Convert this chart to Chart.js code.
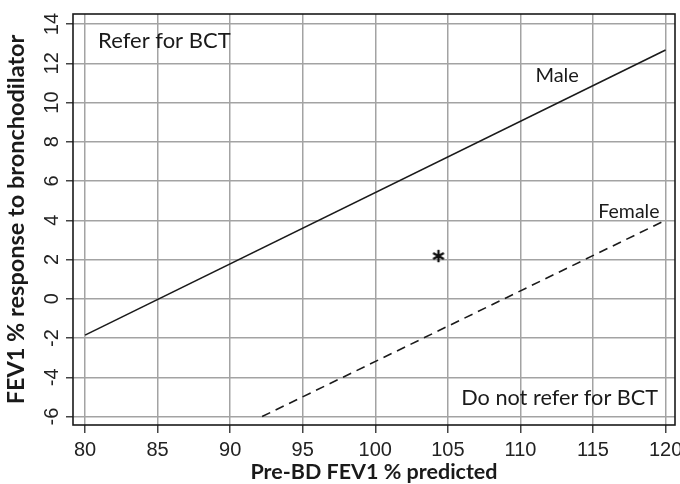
<!DOCTYPE html>
<html><head><meta charset="utf-8">
<script src="https://cdn.jsdelivr.net/npm/chart.js@4/dist/chart.umd.min.js"></script>
<style>html,body{margin:0;padding:0;background:#fff;}</style>
</head><body>
<canvas id="c" width="680" height="484" style="width:680px;height:484px;display:block"></canvas>
<script>
// ---- data ----
const xTicks = [80, 85, 90, 95, 100, 105, 110, 115, 120];
const yTicks = [-6, -4, -2, 0, 2, 4, 6, 8, 10, 12, 14];
const maleX = [80, 120];
const maleY = [-1.85, 12.68];
const femaleX = [92.2, 120];
const femaleY = [-6.0, 4.0];
const patientX = [104.35];
const patientY = [2.18];
const xTitle = 'Pre-BD FEV1 % predicted';
const yTitle = 'FEV1 % response to bronchodilator';

const toPts = (xs, ys) => xs.map((x, i) => ({x: x, y: ys[i]}));

// asterisk marker
const star = document.createElement('canvas');
star.width = 16; star.height = 16;
(function(){
  const g = star.getContext('2d');
  g.strokeStyle = '#111'; g.lineWidth = 2.3; g.lineCap = 'butt';
  const cx = 8, cy = 8, r = 6.2;
  for (const a of [90, 30, -30]) {
    const t = a * Math.PI / 180;
    g.beginPath();
    g.moveTo(cx - r * Math.cos(t), cy - r * Math.sin(t));
    g.lineTo(cx + r * Math.cos(t), cy + r * Math.sin(t));
    g.stroke();
  }
})();

const tickFont = '20px "Liberation Sans", Arial, sans-serif';

const deco = {
  id: 'deco',
  beforeDatasetsDraw(chart) {
    const {ctx, chartArea: a} = chart;
    ctx.save();
    ctx.strokeStyle = '#1a1a1a';
    ctx.lineWidth = 1.6;
    ctx.strokeRect(a.left, a.top, a.right - a.left, a.bottom - a.top);
    // rotated y tick labels
    const ys = chart.scales.y;
    ctx.fillStyle = '#222';
    ctx.font = tickFont;
    ctx.textAlign = 'center';
    ctx.textBaseline = 'middle';
    for (const v of yTicks) {
      const py = ys.getPixelForValue(v);
      ctx.save();
      ctx.translate(52, py);
      ctx.rotate(-Math.PI / 2);
      ctx.fillText(String(v), 0, 0);
      ctx.restore();
    }
    ctx.restore();
  },
  afterDatasetsDraw(chart) {
    const {ctx} = chart;
    const xs = chart.scales.x, ys = chart.scales.y;
    const put = (txt, x, y, align, size) => {
      ctx.font = size + 'px Lato, "Open Sans", sans-serif';
      ctx.textAlign = align;
      ctx.textBaseline = 'alphabetic';
      ctx.fillText(txt, xs.getPixelForValue(x), ys.getPixelForValue(y));
    };
    ctx.save();
    ctx.fillStyle = '#1a1a1a';
    put('Refer for BCT', 80.9, 12.78, 'left', 22);
    put('Male', 111.03, 11.03, 'left', 20);
    put('Female', 115.37, 4.10, 'left', 19.5);
    put('Do not refer for BCT', 119.49, -5.41, 'right', 21.7);
    ctx.restore();
  }
};

new Chart(document.getElementById('c'), {
  type: 'scatter',
  data: {
    datasets: [
      { label: 'Male', data: toPts(maleX, maleY), showLine: true, borderColor: '#1a1a1a',
        borderWidth: 1.6, pointRadius: 0, fill: false },
      { label: 'Female', data: toPts(femaleX, femaleY), showLine: true, borderColor: '#1a1a1a',
        borderWidth: 1.6, borderDash: [9, 6], pointRadius: 0, fill: false },
      { label: 'Patient', data: toPts(patientX, patientY), pointStyle: star, pointRadius: 8,
        showLine: false }
    ]
  },
  options: {
    responsive: false,
    animation: false,
    devicePixelRatio: 1,
    layout: { autoPadding: false, padding: { top: 14, right: 5, left: 0, bottom: 0 } },
    plugins: { legend: { display: false }, tooltip: { enabled: false } },
    scales: {
      x: {
        type: 'linear', min: 79.17, max: 120.65,
        afterBuildTicks: s => { s.ticks = xTicks.map(v => ({value: v})); },
        afterFit: s => { s.height = 59; s.paddingLeft = 0; s.paddingRight = 0; },
        grid: { color: '#a3a3a3', lineWidth: 1.5, tickColor: '#444', tickLength: 8 },
        border: { display: false },
        ticks: { color: '#222', font: { family: '"Liberation Sans", Arial, sans-serif', size: 20 },
                 padding: 5, maxRotation: 0, autoSkip: false },
        title: { display: true, text: xTitle, color: '#1a1a1a',
                 font: { family: 'Lato, sans-serif', size: 21.5, weight: 'bold' }, padding: { top: 0, bottom: -1 } }
      },
      y: {
        type: 'linear', min: -6.43, max: 14.51,
        afterBuildTicks: s => { s.ticks = yTicks.map(v => ({value: v})); },
        afterFit: s => { s.width = 73; s.paddingTop = 0; s.paddingBottom = 0; },
        grid: { color: '#a3a3a3', lineWidth: 1.5, tickColor: '#444', tickLength: 7 },
        border: { display: false },
        ticks: { display: false },
        title: { display: true, text: yTitle, color: '#1a1a1a',
                 font: { family: 'Lato, sans-serif', size: 23.5, weight: 'bold' }, padding: { top: 2, bottom: 0 } }
      }
    }
  },
  plugins: [deco]
});
</script>
</body></html>
